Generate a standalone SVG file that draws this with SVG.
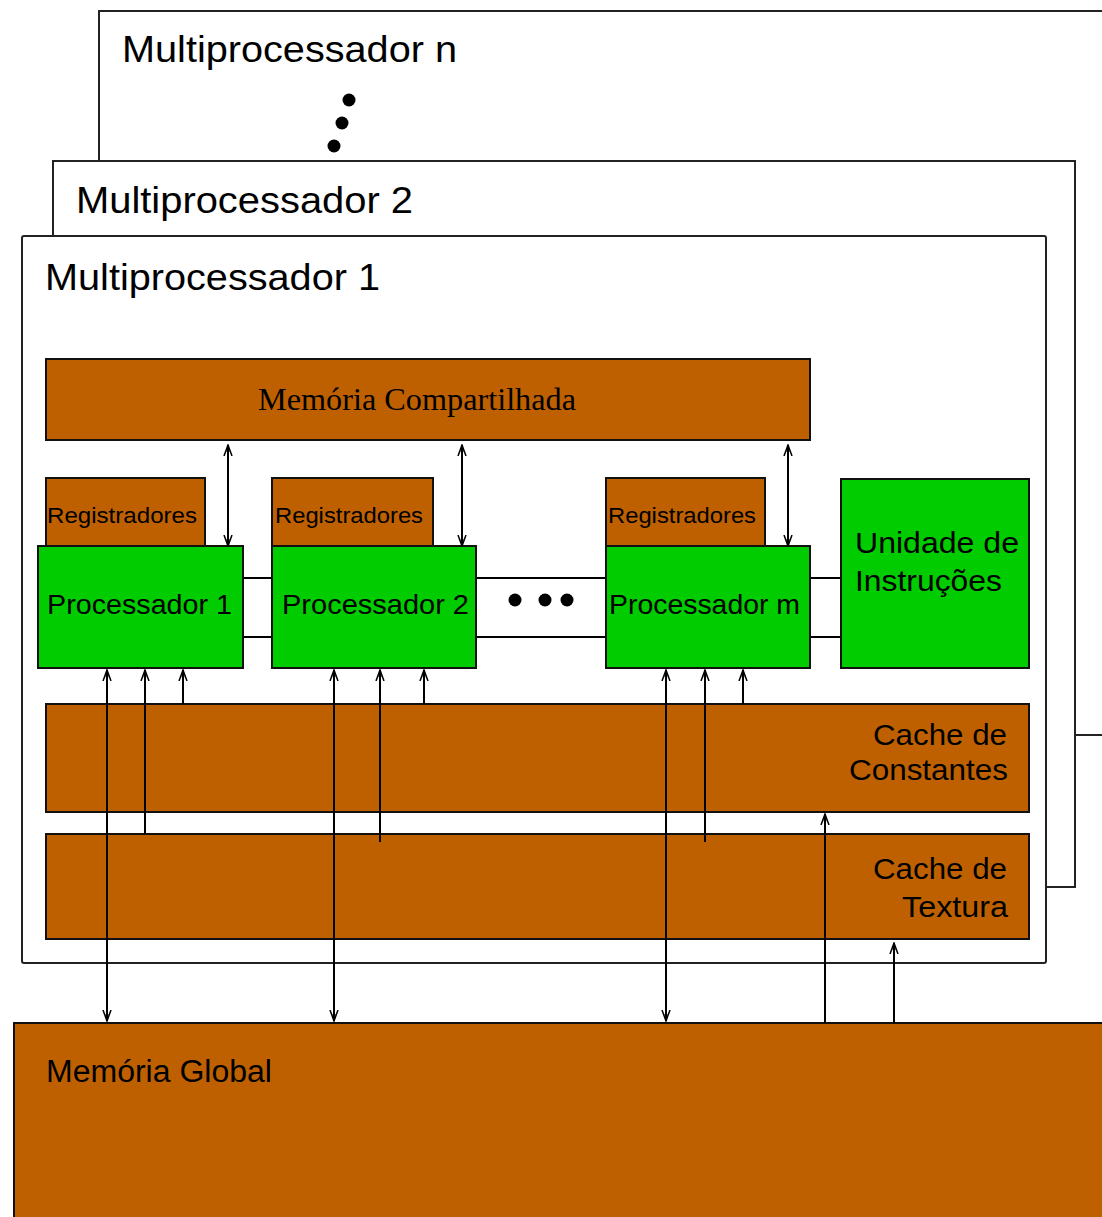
<svg xmlns="http://www.w3.org/2000/svg" width="1102" height="1217" viewBox="0 0 1102 1217">
<style>
.frame{fill:#fff;stroke:#222;stroke-width:2}
.mem{fill:#bf6000;stroke:#111;stroke-width:2}
.proc{fill:#00cc00;stroke:#111;stroke-width:2}
.t{font-family:"Liberation Sans",Arial,sans-serif;fill:#000}
.ts{font-family:"Liberation Serif","Times New Roman",serif;fill:#000}
.ln{stroke:#000;stroke-width:2;fill:none}
.dot{fill:#000}
</style>
<defs>
<marker id="ah" viewBox="0 0 12 10" refX="11" refY="5" markerWidth="12" markerHeight="10" markerUnits="userSpaceOnUse" orient="auto-start-reverse">
<path d="M0,1 L11,5 L0,9" fill="none" stroke="#000" stroke-width="1.5"/>
<path d="M4,3.5 L11,5 L4,6.5 Z" fill="#000"/>
</marker>
</defs>
<rect width="1102" height="1217" fill="#fff"/>

<g id="mp-n">
<path class="frame" d="M1110,735 L99,735 L99,11 L1110,11"/>
<text class="t" x="122" y="62" font-size="36" textLength="335" lengthAdjust="spacingAndGlyphs">Multiprocessador n</text>
<circle class="dot" cx="349" cy="100" r="6.5"/>
<circle class="dot" cx="342" cy="123" r="6.5"/>
<circle class="dot" cx="334" cy="146" r="6.5"/>
</g>

<g id="mp-2">
<rect class="frame" x="53" y="161" width="1022" height="726"/>
<text class="t" x="76" y="213" font-size="36" textLength="337" lengthAdjust="spacingAndGlyphs">Multiprocessador 2</text>
</g>

<g id="mp-1">
<rect class="frame" x="22" y="236" width="1024" height="727" rx="2"/>
<text class="t" x="45" y="290" font-size="36" textLength="335" lengthAdjust="spacingAndGlyphs">Multiprocessador 1</text>
</g>

<g id="mem-compartilhada">
<rect class="mem" x="46" y="359" width="764" height="81"/>
<text class="ts" x="417" y="410" font-size="31" text-anchor="middle" textLength="318" lengthAdjust="spacingAndGlyphs">Memória Compartilhada</text>
</g>

<g id="reg-1">
<rect class="mem" x="46" y="478" width="159" height="68"/>
<text class="t" x="47" y="523" font-size="22" textLength="150" lengthAdjust="spacingAndGlyphs">Registradores</text>
</g>
<g id="reg-2">
<rect class="mem" x="272" y="478" width="161" height="68"/>
<text class="t" x="275" y="523" font-size="22" textLength="148" lengthAdjust="spacingAndGlyphs">Registradores</text>
</g>
<g id="reg-m">
<rect class="mem" x="606" y="478" width="159" height="68"/>
<text class="t" x="608" y="523" font-size="22" textLength="148" lengthAdjust="spacingAndGlyphs">Registradores</text>
</g>

<g id="connectors-h">
<line class="ln" x1="243" y1="578" x2="272" y2="578"/>
<line class="ln" x1="243" y1="637" x2="272" y2="637"/>
<line class="ln" x1="476" y1="578" x2="606" y2="578"/>
<line class="ln" x1="476" y1="637" x2="606" y2="637"/>
<line class="ln" x1="810" y1="578" x2="841" y2="578"/>
<line class="ln" x1="810" y1="637" x2="841" y2="637"/>
</g>

<g id="proc-1">
<rect class="proc" x="38" y="546" width="205" height="122"/>
<text class="t" x="47" y="614" font-size="28" textLength="185" lengthAdjust="spacingAndGlyphs">Processador 1</text>
</g>
<g id="proc-2">
<rect class="proc" x="272" y="546" width="204" height="122"/>
<text class="t" x="282" y="614" font-size="28" textLength="187" lengthAdjust="spacingAndGlyphs">Processador 2</text>
</g>
<g id="dots-h">
<circle class="dot" cx="515" cy="600" r="6.5"/>
<circle class="dot" cx="545" cy="600" r="6.5"/>
<circle class="dot" cx="567" cy="600" r="6.5"/>
</g>
<g id="proc-m">
<rect class="proc" x="606" y="546" width="204" height="122"/>
<text class="t" x="609" y="614" font-size="28" textLength="191" lengthAdjust="spacingAndGlyphs">Processador m</text>
</g>

<g id="unidade-instrucoes">
<rect class="proc" x="841" y="479" width="188" height="189"/>
<text class="t" x="855" y="553" font-size="29" textLength="164" lengthAdjust="spacingAndGlyphs">Unidade de</text>
<text class="t" x="855" y="591" font-size="29" textLength="147" lengthAdjust="spacingAndGlyphs">Instruções</text>
</g>

<g id="cache-constantes">
<rect class="mem" x="46" y="704" width="983" height="108"/>
<text class="t" x="873" y="745" font-size="29" textLength="134" lengthAdjust="spacingAndGlyphs">Cache de</text>
<text class="t" x="849" y="780" font-size="29" textLength="159" lengthAdjust="spacingAndGlyphs">Constantes</text>
</g>

<g id="cache-textura">
<rect class="mem" x="46" y="834" width="983" height="105"/>
<text class="t" x="873" y="879" font-size="29" textLength="134" lengthAdjust="spacingAndGlyphs">Cache de</text>
<text class="t" x="902" y="917" font-size="29" textLength="106" lengthAdjust="spacingAndGlyphs">Textura</text>
</g>

<g id="mem-global">
<rect class="mem" x="14" y="1023" width="1100" height="210"/>
<text class="t" x="46" y="1082" font-size="31" textLength="226" lengthAdjust="spacingAndGlyphs">Memória Global</text>
</g>

<g id="connectors">
<line class="ln" x1="228" y1="546" x2="228" y2="445" marker-start="url(#ah)" marker-end="url(#ah)"/>
<line class="ln" x1="462" y1="546" x2="462" y2="445" marker-start="url(#ah)" marker-end="url(#ah)"/>
<line class="ln" x1="788" y1="546" x2="788" y2="445" marker-start="url(#ah)" marker-end="url(#ah)"/>

<line class="ln" x1="107" y1="1021" x2="107" y2="670" marker-start="url(#ah)" marker-end="url(#ah)"/>
<line class="ln" x1="145" y1="834" x2="145" y2="670" marker-end="url(#ah)"/>
<line class="ln" x1="183" y1="704" x2="183" y2="670" marker-end="url(#ah)"/>

<line class="ln" x1="334" y1="1021" x2="334" y2="670" marker-start="url(#ah)" marker-end="url(#ah)"/>
<line class="ln" x1="380" y1="842" x2="380" y2="670" marker-end="url(#ah)"/>
<line class="ln" x1="424" y1="704" x2="424" y2="670" marker-end="url(#ah)"/>

<line class="ln" x1="666" y1="1021" x2="666" y2="670" marker-start="url(#ah)" marker-end="url(#ah)"/>
<line class="ln" x1="705" y1="842" x2="705" y2="670" marker-end="url(#ah)"/>
<line class="ln" x1="743" y1="704" x2="743" y2="670" marker-end="url(#ah)"/>

<line class="ln" x1="825" y1="1023" x2="825" y2="814" marker-end="url(#ah)"/>
<line class="ln" x1="894" y1="1023" x2="894" y2="943" marker-end="url(#ah)"/>
</g>
</svg>
